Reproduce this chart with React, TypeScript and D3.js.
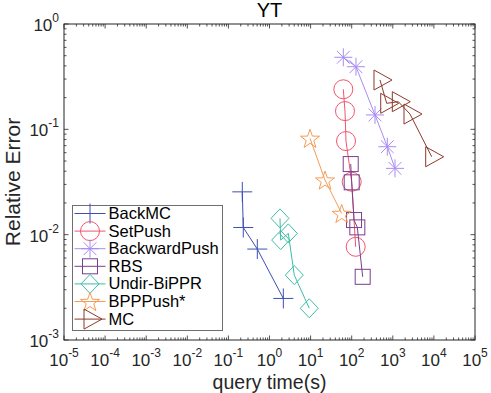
import React from "react";
import * as d3 from "d3";

const W = 491;
const H = 393;
const plot = { left: 64, right: 475, top: 24, bottom: 340 };
const font = "'Liberation Sans', Arial, Helvetica, sans-serif";
const axisColor = "#262626";

// data (query time in s, relative error)
const seriesNames = ["BackMC", "SetPush", "BackwardPush", "RBS", "Undir-BiPPR", "BPPPush*", "MC"];
const backMCTime = [0.218, 0.23, 0.505, 2.17];
const backMCError = [0.0255, 0.0117, 0.0073, 0.00248];
const setPushTime = [62.5, 68.7, 72.7, 100, 125];
const setPushError = [0.24, 0.149, 0.0774, 0.0318, 0.00767];
const backwardPushTime = [62.5, 127, 369, 735, 1132];
const backwardPushError = [0.483, 0.393, 0.137, 0.0684, 0.0426];
const rbsTime = [94.6, 100, 114, 137, 185];
const rbsError = [0.0468, 0.0314, 0.01376, 0.01173, 0.00398];
const undirTime = [1.8, 1.87, 2.87, 4.01, 9.29];
const undirError = [0.01428, 0.00889, 0.01028, 0.00413, 0.002];
const bppTime = [9.67, 22.4, 57.1];
const bppError = [0.0822, 0.033, 0.0159];
const mcTime = [488, 711, 1362, 2620, 8840];
const mcError = [0.294, 0.1766, 0.183, 0.1397, 0.0549];

const xExponents = d3.range(-5, 6);
const yExponents = d3.range(-3, 1);

type MarkerType = "plus" | "circle" | "asterisk" | "square" | "diamond" | "star" | "triangle";

const series = [
  { name: seriesNames[0], t: backMCTime, e: backMCError, color: "#3e4fb4", marker: "plus" as MarkerType },
  { name: seriesNames[1], t: setPushTime, e: setPushError, color: "#f2556f", marker: "circle" as MarkerType },
  { name: seriesNames[2], t: backwardPushTime, e: backwardPushError, color: "#a98cf4", marker: "asterisk" as MarkerType },
  { name: seriesNames[3], t: rbsTime, e: rbsError, color: "#7b3e8e", marker: "square" as MarkerType },
  { name: seriesNames[4], t: undirTime, e: undirError, color: "#3dbda7", marker: "diamond" as MarkerType },
  { name: seriesNames[5], t: bppTime, e: bppError, color: "#f59b55", marker: "star" as MarkerType },
  { name: seriesNames[6], t: mcTime, e: mcError, color: "#8c3a2b", marker: "triangle" as MarkerType },
];

const Marker = ({ type, x, y, color }: { type: MarkerType; x: number; y: number; color: string }) => {
  const p = { fill: "none", stroke: color, strokeWidth: 1 };
  if (type === "plus") {
    return <path {...p} d={`M${x - 10},${y}H${x + 10}M${x},${y - 10}V${y + 10}`} />;
  }
  if (type === "circle") return <circle {...p} cx={x} cy={y} r={9.5} />;
  if (type === "asterisk") {
    const r = 9, d = 6.4;
    return (
      <path
        {...p}
        d={`M${x - r},${y}H${x + r}M${x},${y - r}V${y + r}M${x - d},${y - d}L${x + d},${y + d}M${x - d},${y + d}L${x + d},${y - d}`}
      />
    );
  }
  if (type === "square") return <rect {...p} x={x - 7.5} y={y - 7.5} width={15} height={15} />;
  if (type === "diamond") {
    return <path {...p} d={`M${x},${y - 9.5}L${x + 9},${y}L${x},${y + 9.5}L${x - 9},${y}Z`} />;
  }
  if (type === "star") {
    const pts = d3.range(10).map((i) => {
      const a = (-90 + i * 36) * (Math.PI / 180);
      const r = i % 2 === 0 ? 10 : 4;
      return [x + r * Math.cos(a), y + 1 + r * Math.sin(a)];
    });
    return <path {...p} d={"M" + pts.map((q) => q.join(",")).join("L") + "Z"} />;
  }
  return <path {...p} d={`M${x - 6},${y - 10}L${x + 12},${y}L${x - 6},${y + 10}Z`} />;
};

const Sup = ({ base, exp }: { base: string; exp: number }) => (
  <>
    <tspan>{base}</tspan>
    <tspan dy={-9} fontSize={12}>{exp}</tspan>
  </>
);

export default function App() {
  const x = d3.scaleLog().domain([1e-5, 1e5]).range([plot.left, plot.right]);
  const y = d3.scaleLog().domain([1e-3, 1]).range([plot.bottom, plot.top]);

  const xMinor: number[] = [];
  xExponents.slice(0, -1).forEach((e) => d3.range(2, 10).forEach((k) => xMinor.push(k * 10 ** e)));
  const yMinor: number[] = [];
  yExponents.slice(0, -1).forEach((e) => d3.range(2, 10).forEach((k) => yMinor.push(k * 10 ** e)));

  const line = d3
    .line<[number, number]>()
    .x((d) => x(d[0]))
    .y((d) => y(d[1]));

  const legend = { x: 72.5, y: 205.5, w: 150, h: 125, row: 17.6 };

  return (
    <svg width={W} height={H} style={{ position: "absolute", left: 0, top: 0, fontFamily: font }}>
      <rect width={W} height={H} fill="white" />

      {/* ticks */}
      <g stroke={axisColor} strokeWidth={0.8}>
        {xExponents.map((e) => {
          const px = x(10 ** e);
          return (
            <g key={"xm" + e}>
              <line x1={px} x2={px} y1={plot.bottom} y2={plot.bottom - 4.5} />
              <line x1={px} x2={px} y1={plot.top} y2={plot.top + 4.5} />
            </g>
          );
        })}
        {xMinor.map((v, i) => {
          const px = x(v);
          return (
            <g key={"xn" + i}>
              <line x1={px} x2={px} y1={plot.bottom} y2={plot.bottom - 2.5} />
              <line x1={px} x2={px} y1={plot.top} y2={plot.top + 2.5} />
            </g>
          );
        })}
        {yExponents.map((e) => {
          const py = y(10 ** e);
          return (
            <g key={"ym" + e}>
              <line x1={plot.left} x2={plot.left + 4.5} y1={py} y2={py} />
              <line x1={plot.right} x2={plot.right - 4.5} y1={py} y2={py} />
            </g>
          );
        })}
        {yMinor.map((v, i) => {
          const py = y(v);
          return (
            <g key={"yn" + i}>
              <line x1={plot.left} x2={plot.left + 2.5} y1={py} y2={py} />
              <line x1={plot.right} x2={plot.right - 2.5} y1={py} y2={py} />
            </g>
          );
        })}
      </g>
      <rect
        x={plot.left}
        y={plot.top}
        width={plot.right - plot.left}
        height={plot.bottom - plot.top}
        fill="none"
        stroke={axisColor}
        strokeWidth={1}
      />

      {/* series */}
      {series.map((s) => {
        const pts = s.t.map((t, i) => [t, s.e[i]] as [number, number]);
        return (
          <g key={s.name}>
            <path d={line(pts) || ""} fill="none" stroke={s.color} strokeWidth={1} />
            {pts.map((d, i) => (
              <Marker key={i} type={s.marker} x={x(d[0])} y={y(d[1])} color={s.color} />
            ))}
          </g>
        );
      })}

      {/* tick labels */}
      <g fill={axisColor} fontSize={17}>
        {xExponents.map((e) => (
          <text key={"xl" + e} x={x(10 ** e)} y={366} textAnchor="middle">
            <Sup base="10" exp={e} />
          </text>
        ))}
        {yExponents.map((e) => (
          <text key={"yl" + e} x={59} y={y(10 ** e) + 7} textAnchor="end">
            <Sup base="10" exp={e} />
          </text>
        ))}
      </g>

      <text x={(plot.left + plot.right) / 2} y={17} textAnchor="middle" fontSize={20} fill="#000">
        YT
      </text>
      <text x={(plot.left + plot.right) / 2} y={389} textAnchor="middle" fontSize={19.5} fill={axisColor}>
        query time(s)
      </text>
      <text
        transform={`translate(20,${(plot.top + plot.bottom) / 2}) rotate(-90)`}
        textAnchor="middle"
        fontSize={21}
        fill={axisColor}
      >
        Relative Error
      </text>

      {/* legend */}
      <g>
        <rect x={legend.x} y={legend.y} width={legend.w} height={legend.h} fill="white" stroke="#6e6e6e" strokeWidth={1} />
        {series.map((s, i) => {
          const ry = legend.y + 8 + i * legend.row;
          return (
            <g key={"lg" + s.name}>
              <line x1={legend.x + 2} x2={legend.x + 33} y1={ry} y2={ry} stroke={s.color} strokeWidth={1} />
              <Marker type={s.marker} x={legend.x + 17.5} y={ry} color={s.color} />
              <text x={legend.x + 36} y={ry + 5.5} fontSize={16.5} fill="#000">
                {s.name}
              </text>
            </g>
          );
        })}
      </g>
    </svg>
  );
}
